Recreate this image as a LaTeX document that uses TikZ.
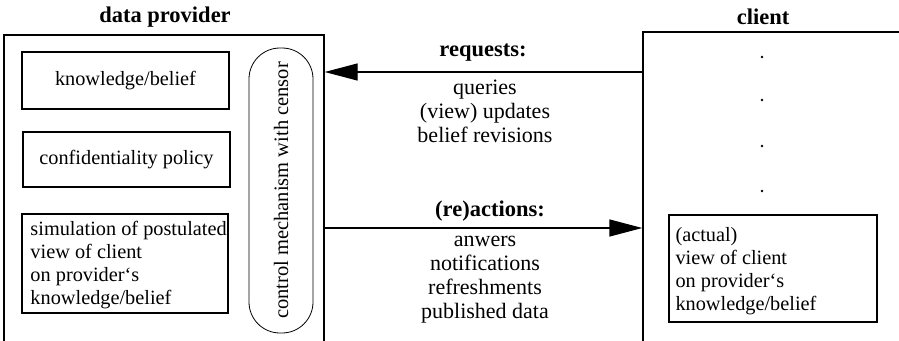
\documentclass[tikz,border=0pt]{standalone}
\usepackage{fontspec}
\setmainfont{Liberation Serif}
\usetikzlibrary{arrows.meta}
\begin{document}
\begin{tikzpicture}[x=1pt,y=-1pt,
  txt/.style={font=\fontsize{22}{24}\selectfont, inner sep=0pt},
  hdr/.style={font=\fontsize{22.5}{24}\selectfont\bfseries, inner sep=0pt},
  box/.style={draw, line width=1.4pt, rectangle, inner sep=0pt, font=\fontsize{20.3}{23}\selectfont},
  boxtxt/.style={font=\fontsize{20.3}{23}\selectfont, inner sep=0pt, align=left},
  bigbox/.style={draw, line width=1.4pt, rectangle, inner sep=0pt},
  arr/.style={line width=1.4pt, -{Triangle[length=33pt,width=17pt]}}]
\useasboundingbox (0,0) rectangle (899,340);
\clip (0,0) rectangle (899,340);
% outer boxes (open at the bottom / right edge of the picture)
\node[bigbox, minimum width=320pt, minimum height=325pt] (provider) at (164,197.5) {};
\node[bigbox, minimum width=277pt, minimum height=328pt] (client) at (781.5,196) {};
\node[hdr] (ptitle) at (165,17) {data provider};
\node[hdr] (ctitle) at (763,17) {client};
% provider inner boxes
\node[box, minimum width=207pt, minimum height=57pt] (kb) at (125.5,80.5) {knowledge/belief};
\node[box, minimum width=207pt, minimum height=55pt] (conf) at (126.5,159.5) {confidentiality policy};
\node[box, minimum width=206pt, minimum height=99pt] (sim) at (125,263.5) {};
\node[boxtxt, anchor=west] (simtxt) at ([xshift=9pt,yshift=-2pt]sim.west)
  {simulation of postulated\\view of client\\on provider`s\\knowledge/belief};
\node[draw, line width=0.8pt, rounded corners=31pt, minimum width=285pt, minimum height=64pt, rotate=90,
  font=\fontsize{20.5}{23}\selectfont, inner sep=0pt] (ctrl) at (281,190.5) {control mechanism with censor};
% client contents
\foreach \i/\yy in {1/57,2/100,3/146,4/191}{
  \fill (762,\yy) circle (1.3pt) coordinate (dot\i);
}
\node[box, minimum width=208pt, minimum height=107pt] (view) at (773,268.5) {};
\node[boxtxt, anchor=west] (viewtxt) at ([xshift=7pt,yshift=-3pt]view.west)
  {(actual)\\view of client\\on provider`s\\knowledge/belief};
% connectors
\coordinate (rq) at (0,72);
\coordinate (ra) at (0,228);
\draw[arr] (client.west |- rq) -- (provider.east |- rq);
\draw[arr] (provider.east |- ra) -- (client.west |- ra);
% labels
\node[hdr] (reqh) at (483,53) {requests:};
\node[txt, align=center] (reql) at (485,111) {queries\\(view) updates\\belief revisions};
\node[hdr] (reah) at (490,211) {(re)actions:};
\node[txt, align=center] (real) at (485,280) {anwers\\notifications\\refreshments\\published data};
\end{tikzpicture}
\end{document}
